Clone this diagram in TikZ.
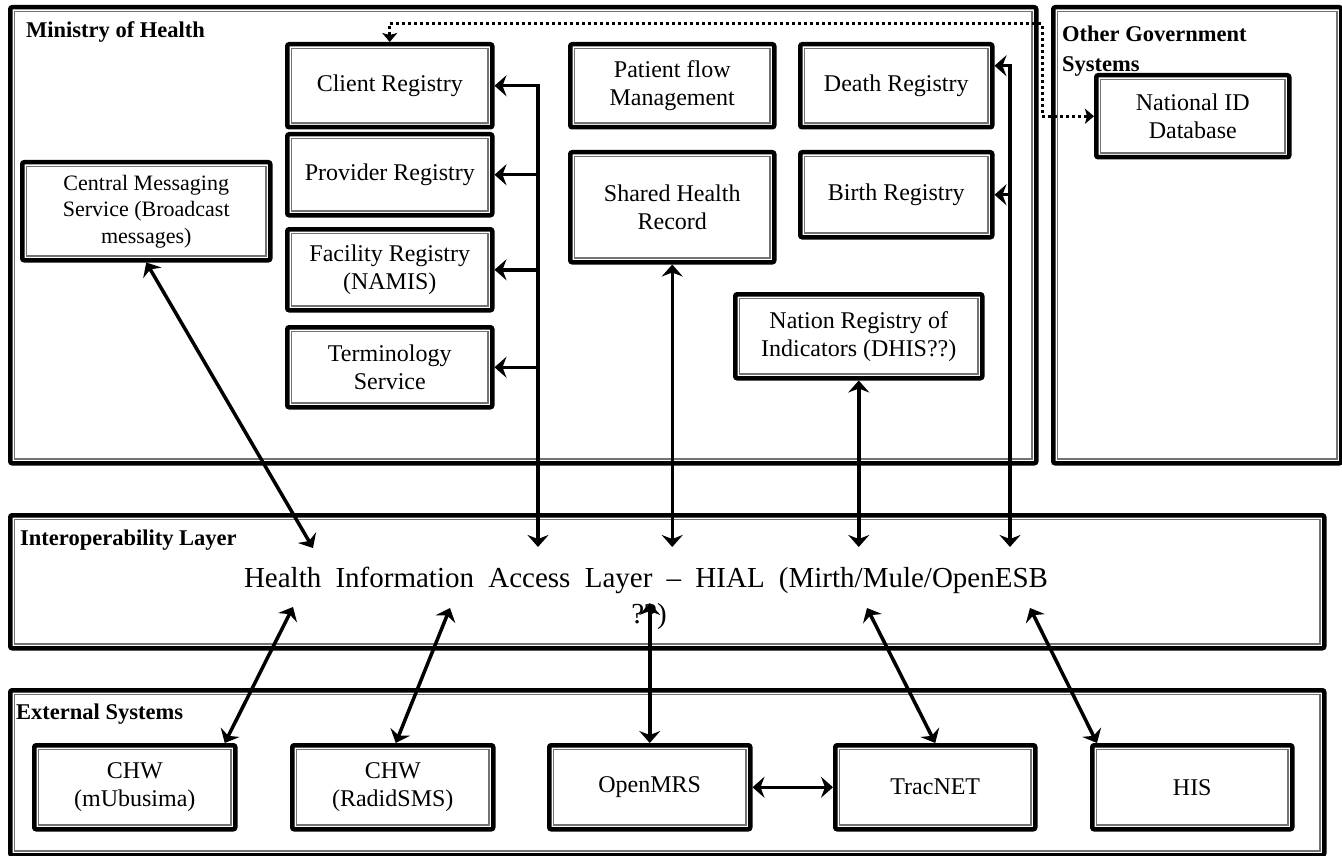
\documentclass[tikz,border=0pt]{standalone}
\usepackage{fontspec}
\setmainfont{Liberation Serif}
\usetikzlibrary{arrows.meta}
\begin{document}
\begin{tikzpicture}[x=1pt,y=-1pt,
  frame/.style={draw=black, line width=4.5pt, rounded corners=2pt, fill=white, anchor=north west, inner sep=0pt},
  box/.style={frame, align=center, font=\fontsize{24}{28}\selectfont},
  innerline/.style={draw=black!55, line width=1.3pt},
  lbl/.style={font=\bfseries\fontsize{22.5}{30}\selectfont, align=left, inner sep=0pt},
  tipL/.tip={Stealth[length=12pt,width=21pt,inset=4pt]},
  tipS/.tip={Stealth[length=9pt,width=15pt,inset=2pt]},
  arr/.style={line width=3.5pt, -tipL},
  barr/.style={line width=3.5pt, tipL-tipL},
  dotline/.style={line width=3pt, dash pattern=on 3pt off 3pt, tipS-tipS}
]
\useasboundingbox (0,0) rectangle (1342,856);

% big frames
\node[frame, minimum width=1026pt, minimum height=456pt] (moh) at (8,5) {};
\node[frame, minimum width=288pt, minimum height=456pt] (ogs) at (1051,5) {};
\node[frame, minimum width=1314pt, minimum height=133pt] (iop) at (8,513) {};
\node[frame, minimum width=1314pt, minimum height=165pt] (ext) at (8,688) {};

% frame labels
\node[lbl, anchor=base west] (mohl) at (26,38) {Ministry of Health};
\node[lbl, anchor=north west] (ogsl) at (1062,26) {Other Government\\Systems};
\node[lbl, anchor=base west] (iopl) at (20,545) {Interoperability Layer};
\node[lbl, anchor=base west] (extl) at (16,719) {External Systems};

% Ministry of Health boxes
\node[box, minimum width=205pt, minimum height=83pt] (client) at (285,42) {Client Registry};
\node[box, minimum width=205pt, minimum height=81pt] (provider) at (285,132) {Provider Registry};
\node[box, minimum width=205pt, minimum height=81pt] (facility) at (285,227) {Facility Registry\\(NAMIS)};
\node[box, minimum width=205pt, minimum height=80pt] (termin) at (285,325) {Terminology\\Service};
\node[box, minimum width=248pt, minimum height=98pt, font=\fontsize{22}{26.5}\selectfont] (cms) at (20,160) {Central Messaging\\Service (Broadcast\\messages)};
\node[box, minimum width=204pt, minimum height=83pt] (patient) at (568,42) {Patient flow\\Management};
\node[box, minimum width=204pt, minimum height=110pt] (shr) at (568,150) {Shared Health\\Record};
\node[box, minimum width=192pt, minimum height=83pt] (death) at (798,42) {Death Registry};
\node[box, minimum width=192pt, minimum height=85pt] (birth) at (798,150) {Birth Registry};
\node[box, minimum width=247pt, minimum height=84pt] (nri) at (733,292) {Nation Registry of\\Indicators (DHIS??)};

% Other government
\node[box, minimum width=193pt, minimum height=82pt] (natid) at (1094,73) {National ID\\Database};

% Interoperability layer text
\node[anchor=base, inner sep=0pt, font=\fontsize{29}{36}\selectfont] (hial) at (646,587)
  {\makebox[804pt][s]{Health Information Access Layer – HIAL (Mirth/Mule/OpenESB}};
\node[anchor=base, inner sep=0pt, font=\fontsize{29}{36}\selectfont] (hialb) at (649,623) {??)};

% External systems
\node[box, minimum width=201pt, minimum height=84pt] (chw1) at (32,743) {CHW\\(mUbusima)};
\node[box, minimum width=201pt, minimum height=84pt] (chw2) at (290,743) {CHW\\(RadidSMS)};
\node[box, minimum width=201pt, minimum height=84pt] (openmrs) at (547,743) {OpenMRS};
\node[box, minimum width=200pt, minimum height=84pt] (tracnet) at (833,743) {TracNET};
\node[box, minimum width=200pt, minimum height=84pt] (his) at (1090,743) {HIS};

% inner thin lines of the thick-thin borders
\foreach \n in {moh,ogs,iop,ext,client,provider,facility,termin,cms,patient,shr,death,birth,nri,natid,chw1,chw2,openmrs,tracnet,his}
  \draw[innerline] ([shift={(6.5pt,-6.5pt)}]\n.north west) rectangle ([shift={(-6.5pt,6.5pt)}]\n.south east);

% connector end points inside the interoperability layer
\coordinate (hcms) at (313,548);
\coordinate (bus1) at (538,547);
\coordinate (bus2) at (1010,547);
\coordinate (l1) at (293,607);
\coordinate (l2) at (450,608);
\coordinate (l3) at (648,603);
\coordinate (l4) at (867,608);
\coordinate (l5) at (1030,608);
\coordinate (dth) at ([yshift=20pt]death.east);
\coordinate (dcorner) at (1042,24);

% dotted link Client Registry <-> National ID
\draw[dotline] (client.north) |- (dcorner) |- (natid.west);

% registries bus
\draw[barr] (bus1) -- (client.east -| bus1) -- (client.east);
\draw[arr] (provider.east -| bus1) -- (provider.east);
\draw[arr] (facility.east -| bus1) -- (facility.east);
\draw[arr] (termin.east -| bus1) -- (termin.east);

% death / birth bus
\draw[barr] (bus2) -- (dth -| bus2) -- (dth);
\draw[arr] (birth.east -| bus2) -- (birth.east);

% other vertical links
\draw[barr] (cms.south) -- (hcms);
\draw[barr] (shr.south) -- (shr.south |- bus1);
\draw[barr] (nri.south) -- (nri.south |- bus1);

% lower links
\draw[barr] (l1) -- ([xshift=90pt]chw1.north);
\draw[barr] (l2) -- ([xshift=3pt]chw2.north);
\draw[barr] (openmrs.north |- l3) -- (openmrs.north);
\draw[barr] (l4) -- (tracnet.north);
\draw[barr] (l5) -- ([xshift=7pt]his.north west);
\draw[barr] (openmrs.east) -- (tracnet.west);
\end{tikzpicture}
\end{document}
